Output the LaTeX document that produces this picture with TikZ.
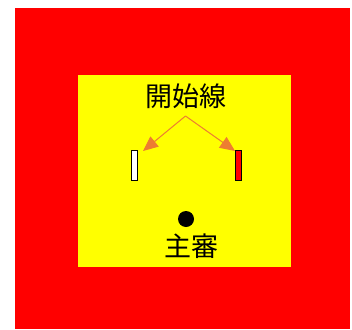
\documentclass[tikz,border=0pt]{standalone}
\usepackage{fontspec}
\newfontfamily\jp{Noto Sans CJK JP}
\usetikzlibrary{arrows.meta}
\definecolor{arr}{HTML}{ED7D31}
\definecolor{bgred}{HTML}{FF0000}
\definecolor{bgyel}{HTML}{FFFF00}
\tikzset{
  lbl/.style={font=\jp\fontsize{27}{27}\selectfont, inner sep=0pt, text=black},
  bar/.style={draw=black, line width=0.6pt},
  pointer/.style={draw=arr, line width=1pt, -{Triangle[length=15pt,width=13pt]}}
}
\begin{document}
\begin{tikzpicture}[x=1pt,y=-1pt]
\useasboundingbox (0,0) rectangle (352,329);
\fill[bgred] (15,8) rectangle (350,329);
\fill[bgyel] (78,75) rectangle (291,267);
\node[lbl] (start) at (186,96) {開始線};
\coordinate (src) at (185.5,116);
\node[bar, fill=white, minimum width=6pt, minimum height=30pt, inner sep=0pt] (wbar) at (134,165) {};
\node[bar, fill=bgred, minimum width=6pt, minimum height=30pt, inner sep=0pt] (rbar) at (238.5,165) {};
\coordinate (ltip) at (143,151);
\coordinate (rtip) at (235,151);
\draw[pointer] (src) -- (ltip);
\draw[pointer] (src) -- (rtip);
\node[circle, fill=black, minimum size=16pt, inner sep=0pt] (ref) at (186,219) {};
\node[lbl] (chief) at (191,246) {主審};
\end{tikzpicture}
\end{document}
